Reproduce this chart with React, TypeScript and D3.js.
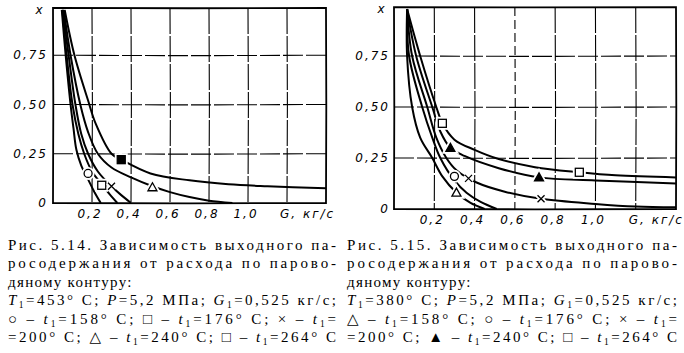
import * as d3 from "d3"

type Pt = [number, number]

// G (кг/с), x — рис. 5.14
const left158: Pt[] = [[0.045, 0.98], [0.065, 0.75], [0.09, 0.5], [0.105, 0.38], [0.12, 0.27], [0.145, 0.19], [0.18, 0.12], [0.21, 0.06], [0.245, 0]]
const left176: Pt[] = [[0.048, 0.98], [0.07, 0.75], [0.1, 0.5], [0.13, 0.35], [0.16, 0.25], [0.2, 0.16], [0.25, 0.095], [0.29, 0.045], [0.33, 0]]
const left200: Pt[] = [[0.05, 0.98], [0.08, 0.75], [0.115, 0.5], [0.145, 0.35], [0.18, 0.25], [0.23, 0.16], [0.3, 0.085], [0.35, 0.04], [0.4, 0]]
const left240: Pt[] = [[0.055, 0.98], [0.09, 0.75], [0.14, 0.5], [0.18, 0.36], [0.23, 0.25], [0.3, 0.18], [0.4, 0.13], [0.51, 0.085], [0.6, 0.055], [0.7, 0.03], [0.8, 0.012], [0.92, 0]]
const left264: Pt[] = [[0.06, 0.98], [0.11, 0.75], [0.18, 0.52], [0.22, 0.4], [0.3, 0.25], [0.35, 0.22], [0.5, 0.15], [0.7, 0.115], [0.9, 0.095], [1.1, 0.085], [1.4, 0.075]]

// рис. 5.15
const right158: Pt[] = [[0.065, 0.98], [0.065, 0.75], [0.09, 0.5], [0.13, 0.35], [0.19, 0.25], [0.24, 0.16], [0.31, 0.08], [0.38, 0.03], [0.45, 0]]
const right176: Pt[] = [[0.065, 0.98], [0.075, 0.75], [0.14, 0.5], [0.19, 0.35], [0.23, 0.25], [0.3, 0.14], [0.36, 0.08], [0.43, 0.035], [0.51, 0]]
const right200: Pt[] = [[0.065, 0.98], [0.09, 0.75], [0.165, 0.5], [0.21, 0.35], [0.26, 0.25], [0.31, 0.19], [0.41, 0.13], [0.55, 0.085], [0.73, 0.05], [1.0, 0.025], [1.2, 0.012], [1.4, 0.008]]
const right240: Pt[] = [[0.065, 0.98], [0.11, 0.75], [0.19, 0.5], [0.23, 0.38], [0.28, 0.3], [0.35, 0.26], [0.52, 0.2], [0.72, 0.155], [1.0, 0.14], [1.4, 0.125]]
const right264: Pt[] = [[0.065, 0.98], [0.13, 0.75], [0.21, 0.5], [0.24, 0.42], [0.3, 0.34], [0.4, 0.29], [0.52, 0.245], [0.7, 0.205], [0.92, 0.18], [1.1, 0.165], [1.4, 0.155]]

type Mark = { g: number; x: number; kind: "circle" | "square" | "squareFill" | "cross" | "tri" | "triFill" }

const leftMarks: Mark[] = [
  { g: 0.18, x: 0.15, kind: "circle" },
  { g: 0.25, x: 0.09, kind: "square" },
  { g: 0.3, x: 0.085, kind: "cross" },
  { g: 0.51, x: 0.08, kind: "tri" },
  { g: 0.35, x: 0.22, kind: "squareFill" },
]
const rightMarks: Mark[] = [
  { g: 0.31, x: 0.08, kind: "tri" },
  { g: 0.3, x: 0.16, kind: "circle" },
  { g: 0.37, x: 0.15, kind: "cross" },
  { g: 0.73, x: 0.05, kind: "cross" },
  { g: 0.28, x: 0.3, kind: "triFill" },
  { g: 0.72, x: 0.155, kind: "triFill" },
  { g: 0.24, x: 0.42, kind: "square" },
  { g: 0.92, x: 0.18, kind: "square" },
]

const gridX = [0.2, 0.4, 0.6, 0.8, 1.0, 1.2]
const gridY = [0.25, 0.5, 0.75]
const xTickLabels = ["0,2", "0,4", "0,6", "0,8", "1,0"]
const yTicks = [0, 0.25, 0.5, 0.75]
const yTickLabels = ["0", "0,25", "0,50", "0,75"]

const leftCaption = [
  "Рис. 5.14. Зависимость выходного па-",
  "росодержания от расхода по парово-",
  "дяному контуру:",
]
const rightCaption = [
  "Рис. 5.15. Зависимость выходного па-",
  "росодержания от расхода по парово-",
  "дяному контуру:",
]
const leftT1 = "453"
const rightT1 = "380"

const tickFont = "'DejaVu Sans', sans-serif"
const capFont = "'Liberation Serif', 'DejaVu Serif', serif"

type Geo = { left: number; right: number; bottom: number; topY: number }
const leftGeo: Geo = { left: 53, right: 326, bottom: 203, topY: 6 }
const rightGeo: Geo = { left: 394, right: 676, bottom: 209, topY: 5 }

const scalesFor = (g: Geo) => ({
  x: d3.scaleLinear().domain([0, 1.4]).range([g.left, g.right]),
  y: d3.scaleLinear().domain([0, 1]).range([g.bottom, g.topY]),
})

// grid and frame as one path, slightly hand-drawn like the scan
function Grid({ geo, dashedSix }: { geo: Geo; dashedSix: boolean }) {
  const { x, y } = scalesFor(geo)
  const top = y(0.99)
  const { left: l, right: r, bottom: b } = geo
  return (
    <g fill="none" stroke="#000">
      {gridX.map((g, i) => (
        <path key={"gx" + i} d={`M${x(g)},${top}L${x(g) + 0.4},${(top + b) / 2}L${x(g)},${b}`} strokeWidth={1.1}
          strokeDasharray={g === 0.6 && dashedSix ? "9,4" : "26,2"} />
      ))}
      {gridY.map((v, i) => (
        <path key={"gy" + i} d={`M${l},${y(v)}L${(l + r) / 2},${y(v) + 0.4}L${r},${y(v)}`} strokeWidth={1.1}
          strokeDasharray="20,3" />
      ))}
      <path d={`M${l},${top}L${(l + r) / 2},${top + 0.3}L${r},${top}L${r + 0.3},${(top + b) / 2}L${r},${b}L${(l + r) / 2},${b + 0.3}L${l},${b}L${l + 0.3},${(top + b) / 2}Z`}
        strokeWidth={1.8} />
    </g>
  )
}

function Marker({ m, x, y }: { m: Mark; x: (v: number) => number; y: (v: number) => number }) {
  const cx = x(m.g)
  const cy = y(m.x)
  const r = 4
  let shape: JSX.Element
  if (m.kind === "circle") shape = <circle cx={cx} cy={cy} r={r} />
  else if (m.kind === "square" || m.kind === "squareFill")
    shape = <rect x={cx - r} y={cy - r} width={2 * r} height={2 * r} />
  else if (m.kind === "tri" || m.kind === "triFill")
    shape = <path d={`M${cx},${cy - r - 0.5}L${cx + r + 0.5},${cy + r - 0.5}L${cx - r - 0.5},${cy + r - 0.5}Z`} />
  else shape = <path d={`M${cx - 3.5},${cy - 3.5}L${cx + 3.5},${cy + 3.5}M${cx + 3.5},${cy - 3.5}L${cx - 3.5},${cy + 3.5}`} />
  const filled = m.kind === "squareFill" || m.kind === "triFill"
  return (
    <g>
      <g fill="#fff" stroke="#fff" strokeWidth={5}>{shape}</g>
      <g fill={filled ? "#000" : m.kind === "cross" ? "none" : "#fff"} stroke="#000" strokeWidth={1.3}>{shape}</g>
    </g>
  )
}

function Panel({ series, marks, geo, yLabelX }: { series: Pt[][]; marks: Mark[]; geo: Geo; yLabelX: number }) {
  const { x, y } = scalesFor(geo)
  const line = d3
    .line<Pt>()
    .x((d) => x(d[0]))
    .y((d) => y(d[1]))
    .curve(d3.curveCatmullRom.alpha(0.5))
  const top = y(0.99)
  return (
    <g>
      {series.map((s, i) => (
        <path key={"s" + i} d={line(s) ?? ""} fill="none" stroke="#000" strokeWidth={2} />
      ))}
      {marks.map((m, i) => (
        <Marker key={"m" + i} m={m} x={x} y={y} />
      ))}
      <g fontFamily={tickFont} fontStyle="italic" fontSize={12} fill="#000" letterSpacing={2}>
        {yTicks.map((v, i) => (
          <text key={"yt" + i} x={yLabelX} y={y(v) + 4} textAnchor="end">{yTickLabels[i]}</text>
        ))}
        <text x={yLabelX - 8} y={top + 6} textAnchor="middle">x</text>
        {xTickLabels.map((t, i) => (
          <text key={"xt" + i} x={x(gridX[i]) - 2} y={geo.bottom + 15} textAnchor="middle">{t}</text>
        ))}
        <text x={x(1.2) - 7} y={geo.bottom + 15} textAnchor="start">G, кг/с</text>
      </g>
    </g>
  )
}

function Sub({ children }: { children: string }) {
  return <tspan fontSize={9.5} baselineShift="-3">{children}</tspan>
}

function Caption({ lines, x0, x1, t1, symbols }: { lines: string[]; x0: number; x1: number; t1: string; symbols: [string, string, string, string, string] }) {
  const y0 = 250
  const lh = 18.4
  const w = x1 - x0
  const it = { fontStyle: "italic" as const }
  return (
    <g fontFamily={capFont} fontSize={15} fill="#000">
      <text x={x0} y={y0} textLength={w} lengthAdjust="spacing">{lines[0]}</text>
      <text x={x0} y={y0 + lh} textLength={w} lengthAdjust="spacing">{lines[1]}</text>
      <text x={x0} y={y0 + 2 * lh} letterSpacing={1.3}>{lines[2]}</text>
      <text x={x0} y={y0 + 3 * lh} textLength={w} lengthAdjust="spacing">
        <tspan {...it}>T</tspan><Sub>1</Sub>{`=${t1}° C; `}<tspan {...it}>P</tspan>{"=5,2 МПа; "}
        <tspan {...it}>G</tspan><Sub>1</Sub>{"=0,525 кг/с;"}
      </text>
      <text x={x0} y={y0 + 4 * lh} textLength={w} lengthAdjust="spacing">
        {symbols[0] + " – "}<tspan {...it}>t</tspan><Sub>1</Sub>{"=158° C; " + symbols[1] + " – "}
        <tspan {...it}>t</tspan><Sub>1</Sub>{"=176° C; " + symbols[2] + " – "}<tspan {...it}>t</tspan><Sub>1</Sub>{"="}
      </text>
      <text x={x0} y={y0 + 5 * lh} textLength={w} lengthAdjust="spacing">
        {"=200° C; " + symbols[3] + " – "}<tspan {...it}>t</tspan><Sub>1</Sub>{"=240° C; " + symbols[4] + " – "}
        <tspan {...it}>t</tspan><Sub>1</Sub>{"=264° C"}
      </text>
    </g>
  )
}

export default function App() {
  return (
    <svg width={684} height={353} style={{ position: "absolute", left: 0, top: 0, background: "#fff" }}>
      <rect width={684} height={353} fill="#fff" />
      <Grid geo={leftGeo} dashedSix={false} />
      <Grid geo={rightGeo} dashedSix={true} />
      <Panel series={[left158, left176, left200, left240, left264]} marks={leftMarks} geo={leftGeo} yLabelX={48} />
      <Panel series={[right158, right176, right200, right240, right264]} marks={rightMarks} geo={rightGeo} yLabelX={390} />
      <Caption lines={leftCaption} x0={8} x1={336} t1={leftT1} symbols={["○", "□", "×", "△", "□"]} />
      <Caption lines={rightCaption} x0={347} x1={677} t1={rightT1} symbols={["△", "○", "×", "▲", "□"]} />
    </svg>
  )
}
